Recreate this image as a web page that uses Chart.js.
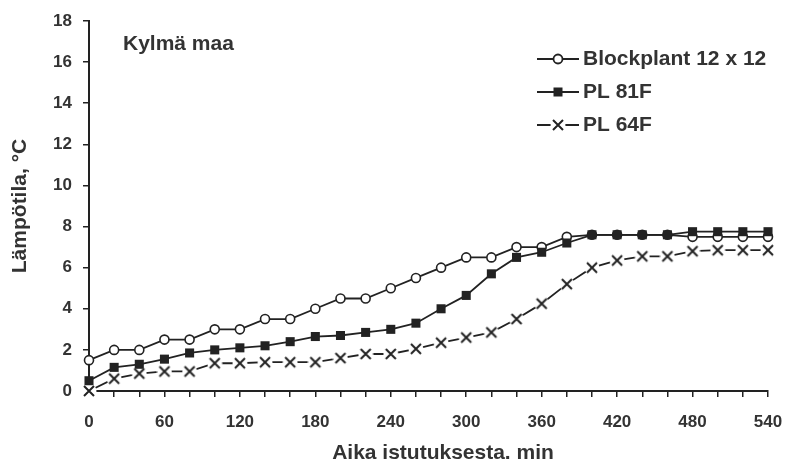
<!DOCTYPE html>
<html>
<head>
<meta charset="utf-8">
<script src="https://cdn.jsdelivr.net/npm/chart.js@4/dist/chart.umd.min.js"></script>
<style>
  html, body { margin: 0; padding: 0; background: #fff; }
  #wrap { width: 786px; height: 464px; }
</style>
</head>
<body>
<div id="wrap"><canvas id="LineChart" width="786" height="464"></canvas></div>
<script>
// minutes after planting
const minutes = [0, 20, 40, 60, 80, 100, 120, 140, 160, 180, 200, 220, 240, 260,
                 280, 300, 320, 340, 360, 380, 400, 420, 440, 460, 480, 500, 520, 540];
// temperatures
const blockplant = [1.5, 2.0, 2.0, 2.5, 2.5, 3.0, 3.0, 3.5, 3.5, 4.0, 4.5, 4.5, 5.0, 5.5,
                    6.0, 6.5, 6.5, 7.0, 7.0, 7.5, 7.6, 7.6, 7.6, 7.6, 7.5, 7.5, 7.5, 7.5];
const pl81f = [0.5, 1.15, 1.3, 1.55, 1.85, 2.0, 2.1, 2.2, 2.4, 2.65, 2.7, 2.85, 3.0, 3.3,
               4.0, 4.65, 5.7, 6.5, 6.75, 7.2, 7.6, 7.6, 7.6, 7.6, 7.75, 7.75, 7.75, 7.75];
const pl64f = [0, 0.6, 0.85, 0.95, 0.95, 1.35, 1.35, 1.4, 1.4, 1.4, 1.6, 1.8, 1.8, 2.05,
               2.35, 2.6, 2.85, 3.5, 4.25, 5.2, 6.0, 6.35, 6.55, 6.55, 6.8, 6.85, 6.85, 6.85];
const seriesNames = ['Blockplant 12 x 12', 'PL 81F', 'PL 64F'];
const xLabelEvery = 60;
const panelTitle = 'Kylmä maa';
const xTitle = 'Aika istutuksesta. min';

const ink = '#222';
const textInk = '#333';
const fontFam = '"Liberation Sans", Arial, sans-serif';

// cross marker with a white patch behind it, so the line looks broken around it
function crossMarker() {
    const c = document.createElement('canvas');
    c.width = 16; c.height = 16;
    const g = c.getContext('2d');
    g.fillStyle = '#fff';
    g.beginPath(); g.arc(8, 8, 7.5, 0, Math.PI * 2); g.fill();
    g.strokeStyle = ink; g.lineWidth = 2;
    g.beginPath();
    g.moveTo(3, 3); g.lineTo(13, 13);
    g.moveTo(13, 3); g.lineTo(3, 13);
    g.stroke();
    return c;
}
const crossImg = crossMarker();

function pts(vals) {
    return vals.map((v, i) => ({ x: minutes[i], y: v }));
}

const legendPlugin = {
    id: 'sideLegend',
    afterDraw(chart) {
        const ctx = chart.ctx;
        ctx.save();
        ctx.fillStyle = textInk;
        ctx.font = 'bold 21px ' + fontFam;
        ctx.textBaseline = 'middle';
        ctx.fillText(panelTitle, 123, 44);

        // x axis title, a bit right of the axis centre as in the original
        ctx.textAlign = 'center';
        ctx.fillText(xTitle, 443, 453);
        ctx.textAlign = 'left';

        const rows = [59, 92, 125];
        const x0 = 537, x1 = 579, mx = 558;
        chart.data.datasets.forEach((ds, i) => {
            const y = rows[i];
            ctx.strokeStyle = ink;
            ctx.lineWidth = 1.8;
            ctx.beginPath();
            ctx.moveTo(x0, y); ctx.lineTo(x1, y);
            ctx.stroke();
            if (i === 0) {
                ctx.fillStyle = '#fff';
                ctx.beginPath(); ctx.arc(mx, y, 4.5, 0, Math.PI * 2);
                ctx.fill(); ctx.stroke();
            } else if (i === 1) {
                ctx.fillStyle = ink;
                ctx.fillRect(mx - 4.5, y - 4.5, 9, 9);
            } else {
                ctx.drawImage(crossImg, mx - 8, y - 8);
            }
            ctx.fillStyle = textInk;
            ctx.fillText(ds.label, 583, y);
        });
        ctx.restore();
    }
};

const ctx = document.getElementById('LineChart');
const LineChart = new Chart(ctx, {
    type: 'line',
    data: {
        datasets: [{
            label: seriesNames[0],
            data: pts(blockplant),
            borderColor: ink,
            borderWidth: 1.8,
            pointStyle: 'circle',
            pointRadius: 4.5,
            pointBackgroundColor: '#fff',
            pointBorderColor: ink,
            pointBorderWidth: 1.6,
            order: 2
        }, {
            label: seriesNames[1],
            data: pts(pl81f),
            borderColor: ink,
            borderWidth: 1.8,
            pointStyle: 'rect',
            pointRadius: 6.4,
            pointBackgroundColor: ink,
            pointBorderColor: ink,
            pointBorderWidth: 0,
            order: 0
        }, {
            label: seriesNames[2],
            data: pts(pl64f),
            borderColor: ink,
            borderWidth: 1.8,
            pointStyle: crossImg,
            pointRadius: 6,
            order: 1
        }]
    },
    options: {
        responsive: false,
        animation: false,
        clip: false,
        layout: { padding: { top: 21, right: 18, left: 0, bottom: 0 } },
        plugins: {
            legend: { display: false },
            tooltip: { enabled: false }
        },
        scales: {
            x: {
                type: 'linear',
                min: 0,
                max: 540,
                afterFit(scale) {
                    scale.height = 73;
                    scale.paddingLeft = 0;
                    scale.paddingRight = 0;
                },
                border: { display: true, color: ink, width: 2 },
                grid: { drawOnChartArea: false, drawTicks: true, tickLength: 6, color: ink, lineWidth: 1.5 },
                ticks: {
                    stepSize: 20,
                    autoSkip: false,
                    maxRotation: 0,
                    padding: 15,
                    color: textInk,
                    font: { family: fontFam, size: 17, weight: 'bold' },
                    callback: function(value) {
                        return value % xLabelEvery === 0 ? value : '';
                    }
                },
                title: { display: false }
            },
            y: {
                min: 0,
                max: 18,
                afterFit(scale) {
                    scale.width = 89;
                    scale.paddingTop = 0;
                    scale.paddingBottom = 0;
                },
                border: { display: true, color: ink, width: 2 },
                grid: { drawOnChartArea: false, drawTicks: true, tickLength: 6, color: ink, lineWidth: 1.5 },
                ticks: {
                    stepSize: 2,
                    padding: 11,
                    color: textInk,
                    font: { family: fontFam, size: 17, weight: 'bold' }
                },
                title: {
                    display: true,
                    text: 'Lämpötila, °C',
                    color: textInk,
                    padding: { top: 8, bottom: 0 },
                    font: { family: fontFam, size: 21, weight: 'bold' }
                }
            }
        }
    },
    plugins: [legendPlugin]
});
</script>
</body>
</html>
